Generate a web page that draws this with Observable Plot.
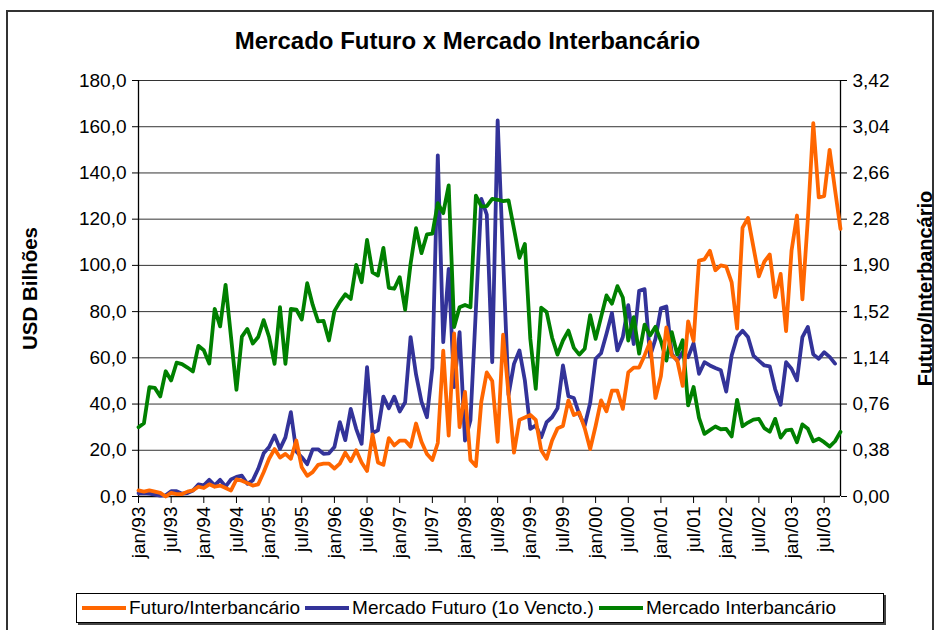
<!DOCTYPE html>
<html><head><meta charset="utf-8">
<script src="https://cdn.jsdelivr.net/npm/d3@7"></script>
<script src="https://cdn.jsdelivr.net/npm/@observablehq/plot@0.6"></script>
<style>
body{margin:0;background:#fff;font-family:"Liberation Sans",Arial,sans-serif;color:#000;}
#frame{position:relative;width:935px;height:630px;overflow:hidden;background:#fff;}
#border{position:absolute;left:6px;top:10px;width:924px;height:640px;border:2px solid #333;}
#title{position:absolute;left:0;top:26px;width:935px;text-align:center;font-weight:bold;font-size:24px;line-height:30px;}
#chart{position:absolute;left:0;top:60px;}
#legend{position:absolute;left:76px;top:593px;width:806px;height:28px;border:1px solid #000;box-shadow:2px 2px 0 #444;background:#fff;display:flex;align-items:center;font-size:19px;white-space:nowrap;}
.it{display:flex;align-items:center;margin-left:5px;}
.sw{display:inline-block;width:44px;height:4px;margin-right:3px;}
</style>
</head><body>
<div id="frame">
<div id="border"></div>
<div id="title">Mercado Futuro x Mercado Interbancário</div>
<div id="chart"></div>
<div id="legend"></div>
</div>
<script>
// Mercado Futuro (1o Vencto.) - USD bilhões, jan/93 .. set/03
const futuro = [1.4,1.5,1.2,0.8,0.4,0.5,2.3,2.3,1.2,1.5,
 2.6,5.2,4.8,7.2,4.8,7.2,4.3,7.4,8.5,9,
 5.5,7,12,18.7,21.4,26.4,20.6,25.6,36.5,19.5,
 17,14,20.4,20.4,18.5,18.7,21.4,32.2,24.4,37.9,
 29.3,22.8,56,27.5,28.6,43.2,38.2,43.2,36.8,40.8,
 69,52.8,41,34.3,55.6,147.6,66.8,98.5,47.3,71.1,
 24.2,33,81,128.8,122,58.1,162.7,103,44,57.4,
 63.2,50.2,29.3,30.8,25.6,32.2,34.3,38.2,56.7,43.4,
 42.6,35.5,30.7,40.5,59.6,62,70.4,79.4,63.2,69,
 82.8,66,89,89.7,60.6,68.2,81.4,82.2,61.7,58.7,
 62.5,60.3,66.3,53.1,58.1,56.7,55.6,54.6,45.4,61,
 69,71.7,69,61,58.8,56.7,56.3,46.4,39.7,58.1,
 55.3,50.3,69,73.4,61.5,59.6,62.4,60.4,57.5];
// Mercado Interbancário - USD bilhões, jan/93 .. out/03
const interbancario = [30,31.7,47.3,47,43.3,54.2,50.2,57.9,57.3,55.8,
 54.1,65.2,63.3,57.5,81.2,73.6,91.6,69,46.2,69.2,
 72.5,66.2,69,76.3,69,57.4,81.9,57.4,81.2,80.9,
 76.6,92.3,83,75.8,76,67.5,80.2,84.2,87.5,85.5,
 100.2,92.7,111,97,95.6,107.6,90.3,89.9,94.9,80.8,
 100.7,116.1,105.3,113.4,113.7,126.9,122.6,134.6,73.3,81.9,
 82.9,81.9,130.2,125.5,125.6,128.8,128.4,127.8,128.1,115.8,
 103.3,109.3,68.2,46.6,81.7,79.8,68.7,61.4,67.5,71.8,
 64.3,61.4,63.9,78.5,68.2,77.6,87,83.4,91,86.1,
 67.5,77.6,61.8,74.4,69.7,73.4,67.3,58.8,71.1,61.4,
 67.6,39.4,47.4,34,27.1,28.7,30.3,29.1,29.3,26,
 41.8,30.4,32,33.3,33.6,29.6,28,33.6,25.5,28.6,
 28.9,23.5,31.2,29.3,23.9,25,23.5,21.6,23.9,28];
// Futuro/Interbancário (eixo secundário)
const razao = [0.05,0.04,0.05,0.04,0.03,0.00,0.03,0.02,0.02,0.04,
 0.05,0.08,0.07,0.10,0.08,0.09,0.07,0.05,0.14,0.13,
 0.11,0.09,0.10,0.20,0.31,0.39,0.32,0.35,0.31,0.46,
 0.24,0.17,0.20,0.26,0.27,0.27,0.23,0.27,0.36,0.29,
 0.38,0.28,0.21,0.51,0.28,0.26,0.48,0.42,0.46,0.46,
 0.41,0.60,0.45,0.35,0.30,0.44,1.20,0.50,1.34,0.57,
 0.86,0.30,0.25,0.78,1.02,0.95,0.45,1.33,0.84,0.36,
 0.63,0.65,0.67,0.63,0.38,0.31,0.46,0.56,0.58,0.79,
 0.67,0.69,0.56,0.39,0.58,0.79,0.70,0.87,0.87,0.72,
 1.02,1.06,1.06,1.16,1.27,0.81,0.99,1.39,1.16,1.12,
 0.91,1.44,1.28,1.94,1.95,2.02,1.86,1.90,1.89,1.76,
 1.38,2.21,2.29,2.05,1.81,1.93,1.99,1.64,1.83,1.36,
 2.02,2.31,1.62,2.28,3.07,2.46,2.47,2.85,2.52,2.20];
const xTickLabels = ["jan/93","jul/93","jan/94","jul/94","jan/95","jul/95","jan/96","jul/96","jan/97","jul/97","jan/98","jul/98","jan/99","jul/99","jan/00","jul/00","jan/01","jul/01","jan/02","jul/02","jan/03","jul/03"];
const leftTickLabels = ["0,0","20,0","40,0","60,0","80,0","100,0","120,0","140,0","160,0","180,0"];
const rightTickLabels = ["0,00","0,38","0,76","1,14","1,52","1,90","2,28","2,66","3,04","3,42"];
const seriesNames = ["Futuro/Interbancário","Mercado Futuro (1o Vencto.)","Mercado Interbancário"];
const seriesColors = ["#FF6600","#333399","#008000"];

const LEFT_MAX = 180, RIGHT_MAX = 3.42, K = LEFT_MAX / RIGHT_MAX;
const nMonths = interbancario.length;
const leftTicks = leftTickLabels.map((_, i) => i * 20);
const xTicks = xTickLabels.map((_, i) => i * 6);
const rows = (arr) => arr.map((v, i) => ({i, v})).filter(d => d.v != null);

const font = "'Liberation Sans', Arial, sans-serif";
const chart = Plot.plot({
  width: 935, height: 530,
  marginLeft: 138, marginRight: 95, marginTop: 20, marginBottom: 94,
  style: {fontFamily: font, fontSize: "19px", color: "#000", background: "transparent"},
  x: {domain: [0, nMonths - 1], axis: null},
  y: {domain: [0, LEFT_MAX], axis: null},
  marks: [
    Plot.ruleY(leftTicks, {stroke: "#000", strokeWidth: 1, strokeOpacity: 0.8}),
    Plot.ruleX([0, nMonths - 1], {stroke: "#000", strokeWidth: 1.3}),
    Plot.ruleY([0], {stroke: "#000", strokeWidth: 1.3}),
    Plot.line(rows(futuro), {x: "i", y: "v", stroke: seriesColors[1], strokeWidth: 3.8, strokeLinejoin: "round"}),
    Plot.line(rows(interbancario), {x: "i", y: "v", stroke: seriesColors[2], strokeWidth: 3.8, strokeLinejoin: "round"}),
    Plot.line(rows(razao), {x: "i", y: d => d.v * K, stroke: seriesColors[0], strokeWidth: 3.8, strokeLinejoin: "round"}),
    Plot.axisY({anchor: "left", ticks: leftTicks, tickFormat: d => leftTickLabels[Math.round(d / 20)], tickSize: 6, tickPadding: 6, fontSize: 19, label: null}),
    Plot.axisY({anchor: "right", ticks: leftTicks, tickFormat: d => rightTickLabels[Math.round(d / 20)], tickSize: 6, tickPadding: 6, fontSize: 19, label: null}),
    Plot.axisX({anchor: "bottom", ticks: xTicks, tickFormat: d => xTickLabels[Math.round(d / 6)], tickRotate: -90, tickSize: 7, tickPadding: 3, fontSize: 19, label: null}),
    Plot.text(["USD Bilhões"], {frameAnchor: "left", dx: -108, rotate: -90, textAnchor: "middle", fontWeight: "bold", fontSize: 20.5}),
    Plot.text(["Futuro/Interbancário"], {frameAnchor: "right", dx: 85, rotate: -90, textAnchor: "middle", fontWeight: "bold", fontSize: 20}),
  ]
});
document.getElementById("chart").appendChild(chart);

const legend = document.getElementById("legend");
seriesNames.forEach((name, k) => {
  const it = document.createElement("div");
  it.className = "it";
  it.innerHTML = `<span class="sw" style="background:${seriesColors[k]}"></span><span>${name}</span>`;
  legend.appendChild(it);
});
</script>
</body></html>
